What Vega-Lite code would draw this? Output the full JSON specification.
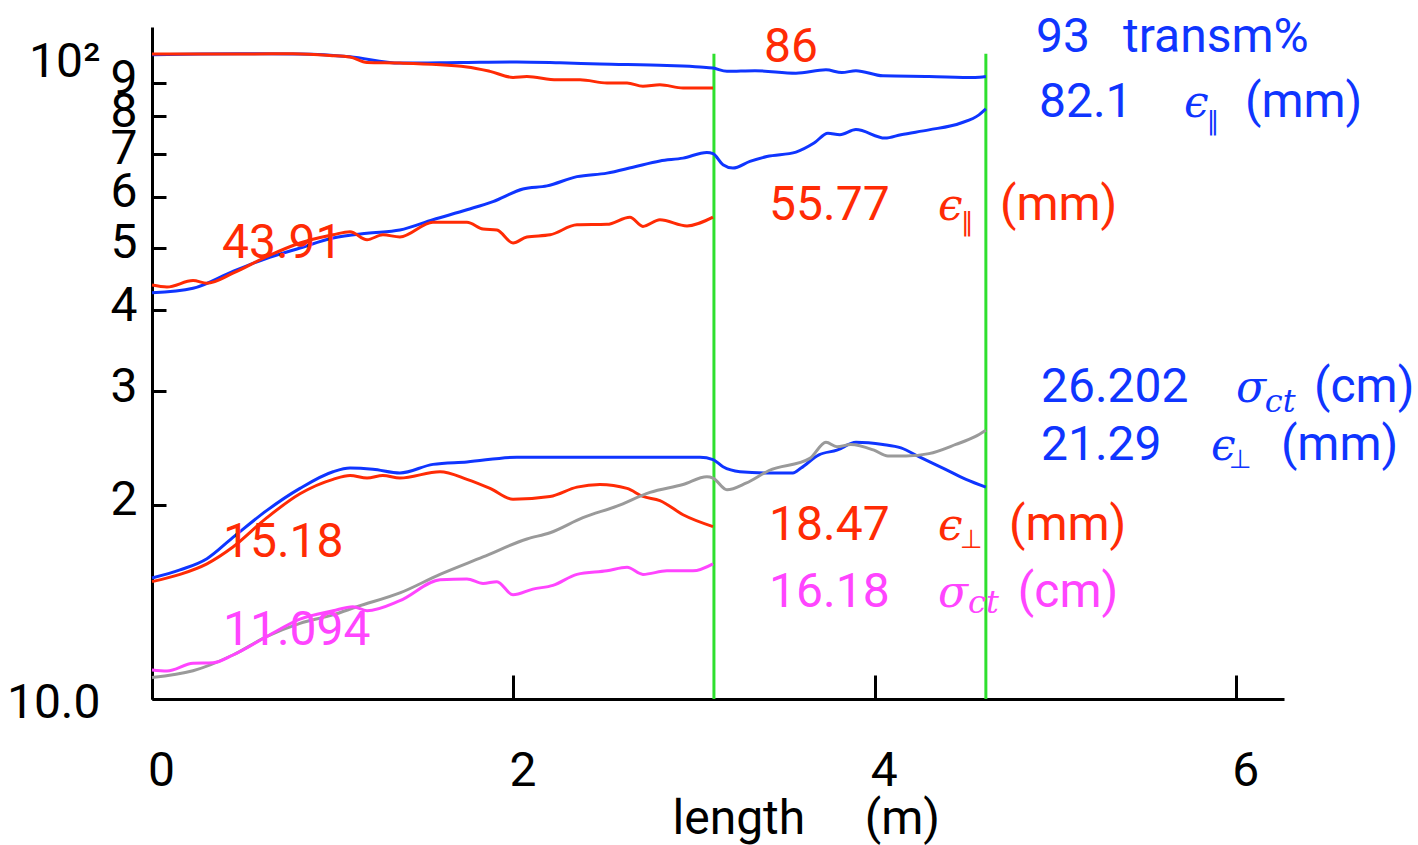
{
  "$schema": "https://vega.github.io/schema/vega-lite/v6.json",
  "width": 1132,
  "height": 672,
  "autosize": {"type": "none"},
  "padding": {"left": 152, "top": 27, "right": 134, "bottom": 146},
  "background": "white",
  "config": {"view": {"stroke": null}, "font": "Roboto"},
  "datasets": {
    "curves": [
      {"curve": "T_A", "group": "A", "x": 0, "y": 99.6},
      {"curve": "T_A", "group": "A", "x": 0.266, "y": 99.9},
      {"curve": "T_A", "group": "A", "x": 0.598, "y": 100.0},
      {"curve": "T_A", "group": "A", "x": 0.819, "y": 99.9},
      {"curve": "T_A", "group": "A", "x": 1.096, "y": 98.9},
      {"curve": "T_A", "group": "A", "x": 1.372, "y": 96.7},
      {"curve": "T_A", "group": "A", "x": 1.705, "y": 96.9},
      {"curve": "T_A", "group": "A", "x": 2.02, "y": 97.1},
      {"curve": "T_A", "group": "A", "x": 2.258, "y": 96.8},
      {"curve": "T_A", "group": "A", "x": 2.479, "y": 96.4},
      {"curve": "T_A", "group": "A", "x": 2.85, "y": 95.9},
      {"curve": "T_A", "group": "A", "x": 3.033, "y": 95.4},
      {"curve": "T_A", "group": "A", "x": 3.105, "y": 95.0},
      {"curve": "T_A", "group": "A", "x": 3.182, "y": 93.9},
      {"curve": "T_A", "group": "A", "x": 3.337, "y": 94.1},
      {"curve": "T_A", "group": "A", "x": 3.564, "y": 93.3},
      {"curve": "T_A", "group": "A", "x": 3.73, "y": 94.4},
      {"curve": "T_A", "group": "A", "x": 3.818, "y": 93.5},
      {"curve": "T_A", "group": "A", "x": 3.896, "y": 94.1},
      {"curve": "T_A", "group": "A", "x": 4.045, "y": 92.4},
      {"curve": "T_A", "group": "A", "x": 4.3, "y": 92.2},
      {"curve": "T_A", "group": "A", "x": 4.555, "y": 91.9},
      {"curve": "T_A", "group": "A", "x": 4.615, "y": 92.2},

      {"curve": "T_B", "group": "B", "x": 0, "y": 99.9},
      {"curve": "T_B", "group": "B", "x": 0.266, "y": 99.9},
      {"curve": "T_B", "group": "B", "x": 0.542, "y": 99.9},
      {"curve": "T_B", "group": "B", "x": 0.78, "y": 100.0},
      {"curve": "T_B", "group": "B", "x": 0.985, "y": 99.4},
      {"curve": "T_B", "group": "B", "x": 1.096, "y": 98.8},
      {"curve": "T_B", "group": "B", "x": 1.19, "y": 96.9},
      {"curve": "T_B", "group": "B", "x": 1.372, "y": 96.7},
      {"curve": "T_B", "group": "B", "x": 1.743, "y": 95.4},
      {"curve": "T_B", "group": "B", "x": 1.871, "y": 93.9},
      {"curve": "T_B", "group": "B", "x": 1.998, "y": 91.9},
      {"curve": "T_B", "group": "B", "x": 2.075, "y": 92.2},
      {"curve": "T_B", "group": "B", "x": 2.241, "y": 91.1},
      {"curve": "T_B", "group": "B", "x": 2.369, "y": 91.1},
      {"curve": "T_B", "group": "B", "x": 2.518, "y": 90.1},
      {"curve": "T_B", "group": "B", "x": 2.629, "y": 90.1},
      {"curve": "T_B", "group": "B", "x": 2.717, "y": 89.0},
      {"curve": "T_B", "group": "B", "x": 2.811, "y": 89.5},
      {"curve": "T_B", "group": "B", "x": 2.939, "y": 88.5},
      {"curve": "T_B", "group": "B", "x": 3.105, "y": 88.5},

      {"curve": "EP_A", "group": "A", "x": 0, "y": 42.6},
      {"curve": "EP_A", "group": "A", "x": 0.227, "y": 43.3},
      {"curve": "EP_A", "group": "A", "x": 0.448, "y": 46.0},
      {"curve": "EP_A", "group": "A", "x": 0.636, "y": 48.2},
      {"curve": "EP_A", "group": "A", "x": 0.819, "y": 50.0},
      {"curve": "EP_A", "group": "A", "x": 1.002, "y": 51.8},
      {"curve": "EP_A", "group": "A", "x": 1.19, "y": 52.7},
      {"curve": "EP_A", "group": "A", "x": 1.372, "y": 53.3},
      {"curve": "EP_A", "group": "A", "x": 1.555, "y": 55.3},
      {"curve": "EP_A", "group": "A", "x": 1.743, "y": 57.3},
      {"curve": "EP_A", "group": "A", "x": 1.887, "y": 59.0},
      {"curve": "EP_A", "group": "A", "x": 2.053, "y": 61.7},
      {"curve": "EP_A", "group": "A", "x": 2.186, "y": 62.4},
      {"curve": "EP_A", "group": "A", "x": 2.352, "y": 64.5},
      {"curve": "EP_A", "group": "A", "x": 2.518, "y": 65.3},
      {"curve": "EP_A", "group": "A", "x": 2.662, "y": 66.7},
      {"curve": "EP_A", "group": "A", "x": 2.811, "y": 68.2},
      {"curve": "EP_A", "group": "A", "x": 2.939, "y": 68.9},
      {"curve": "EP_A", "group": "A", "x": 3.071, "y": 70.3},
      {"curve": "EP_A", "group": "A", "x": 3.105, "y": 70.0},
      {"curve": "EP_A", "group": "A", "x": 3.16, "y": 67.3},
      {"curve": "EP_A", "group": "A", "x": 3.215, "y": 66.5},
      {"curve": "EP_A", "group": "A", "x": 3.309, "y": 68.1},
      {"curve": "EP_A", "group": "A", "x": 3.403, "y": 69.3},
      {"curve": "EP_A", "group": "A", "x": 3.564, "y": 70.4},
      {"curve": "EP_A", "group": "A", "x": 3.664, "y": 72.7},
      {"curve": "EP_A", "group": "A", "x": 3.741, "y": 75.3},
      {"curve": "EP_A", "group": "A", "x": 3.807, "y": 74.9},
      {"curve": "EP_A", "group": "A", "x": 3.896, "y": 76.3},
      {"curve": "EP_A", "group": "A", "x": 4.057, "y": 74.0},
      {"curve": "EP_A", "group": "A", "x": 4.145, "y": 74.9},
      {"curve": "EP_A", "group": "A", "x": 4.3, "y": 76.2},
      {"curve": "EP_A", "group": "A", "x": 4.477, "y": 78.1},
      {"curve": "EP_A", "group": "A", "x": 4.577, "y": 80.4},
      {"curve": "EP_A", "group": "A", "x": 4.615, "y": 82.1},

      {"curve": "EP_B", "group": "B", "x": 0, "y": 43.8},
      {"curve": "EP_B", "group": "B", "x": 0.083, "y": 43.5},
      {"curve": "EP_B", "group": "B", "x": 0.227, "y": 44.5},
      {"curve": "EP_B", "group": "B", "x": 0.304, "y": 44.1},
      {"curve": "EP_B", "group": "B", "x": 0.448, "y": 45.7},
      {"curve": "EP_B", "group": "B", "x": 0.636, "y": 48.5},
      {"curve": "EP_B", "group": "B", "x": 0.819, "y": 50.9},
      {"curve": "EP_B", "group": "B", "x": 1.002, "y": 52.4},
      {"curve": "EP_B", "group": "B", "x": 1.096, "y": 53.0},
      {"curve": "EP_B", "group": "B", "x": 1.19, "y": 51.5},
      {"curve": "EP_B", "group": "B", "x": 1.278, "y": 52.4},
      {"curve": "EP_B", "group": "B", "x": 1.372, "y": 52.0},
      {"curve": "EP_B", "group": "B", "x": 1.555, "y": 54.8},
      {"curve": "EP_B", "group": "B", "x": 1.743, "y": 54.8},
      {"curve": "EP_B", "group": "B", "x": 1.832, "y": 53.5},
      {"curve": "EP_B", "group": "B", "x": 1.909, "y": 53.3},
      {"curve": "EP_B", "group": "B", "x": 1.998, "y": 50.9},
      {"curve": "EP_B", "group": "B", "x": 2.075, "y": 52.0},
      {"curve": "EP_B", "group": "B", "x": 2.203, "y": 52.4},
      {"curve": "EP_B", "group": "B", "x": 2.352, "y": 54.3},
      {"curve": "EP_B", "group": "B", "x": 2.518, "y": 54.4},
      {"curve": "EP_B", "group": "B", "x": 2.645, "y": 55.8},
      {"curve": "EP_B", "group": "B", "x": 2.717, "y": 54.0},
      {"curve": "EP_B", "group": "B", "x": 2.811, "y": 55.3},
      {"curve": "EP_B", "group": "B", "x": 2.961, "y": 54.1},
      {"curve": "EP_B", "group": "B", "x": 3.105, "y": 55.8},

      {"curve": "EPP_A", "group": "A", "x": 0, "y": 15.4},
      {"curve": "EPP_A", "group": "A", "x": 0.155, "y": 15.85},
      {"curve": "EPP_A", "group": "A", "x": 0.304, "y": 16.5},
      {"curve": "EPP_A", "group": "A", "x": 0.448, "y": 17.8},
      {"curve": "EPP_A", "group": "A", "x": 0.636, "y": 19.6},
      {"curve": "EPP_A", "group": "A", "x": 0.819, "y": 21.2},
      {"curve": "EPP_A", "group": "A", "x": 1.002, "y": 22.5},
      {"curve": "EPP_A", "group": "A", "x": 1.096, "y": 22.8},
      {"curve": "EPP_A", "group": "A", "x": 1.223, "y": 22.7},
      {"curve": "EPP_A", "group": "A", "x": 1.372, "y": 22.4},
      {"curve": "EPP_A", "group": "A", "x": 1.555, "y": 23.1},
      {"curve": "EPP_A", "group": "A", "x": 1.743, "y": 23.3},
      {"curve": "EPP_A", "group": "A", "x": 2.02, "y": 23.7},
      {"curve": "EPP_A", "group": "A", "x": 2.297, "y": 23.7},
      {"curve": "EPP_A", "group": "A", "x": 2.85, "y": 23.7},
      {"curve": "EPP_A", "group": "A", "x": 3.033, "y": 23.7},
      {"curve": "EPP_A", "group": "A", "x": 3.105, "y": 23.5},
      {"curve": "EPP_A", "group": "A", "x": 3.16, "y": 22.9},
      {"curve": "EPP_A", "group": "A", "x": 3.254, "y": 22.5},
      {"curve": "EPP_A", "group": "A", "x": 3.403, "y": 22.4},
      {"curve": "EPP_A", "group": "A", "x": 3.547, "y": 22.4},
      {"curve": "EPP_A", "group": "A", "x": 3.592, "y": 22.8},
      {"curve": "EPP_A", "group": "A", "x": 3.691, "y": 23.9},
      {"curve": "EPP_A", "group": "A", "x": 3.791, "y": 24.3},
      {"curve": "EPP_A", "group": "A", "x": 3.896, "y": 25.0},
      {"curve": "EPP_A", "group": "A", "x": 4.045, "y": 24.8},
      {"curve": "EPP_A", "group": "A", "x": 4.145, "y": 24.5},
      {"curve": "EPP_A", "group": "A", "x": 4.25, "y": 23.7},
      {"curve": "EPP_A", "group": "A", "x": 4.377, "y": 22.8},
      {"curve": "EPP_A", "group": "A", "x": 4.505, "y": 21.9},
      {"curve": "EPP_A", "group": "A", "x": 4.615, "y": 21.3},

      {"curve": "EPP_B", "group": "B", "x": 0, "y": 15.2},
      {"curve": "EPP_B", "group": "B", "x": 0.155, "y": 15.6},
      {"curve": "EPP_B", "group": "B", "x": 0.304, "y": 16.2},
      {"curve": "EPP_B", "group": "B", "x": 0.448, "y": 17.2},
      {"curve": "EPP_B", "group": "B", "x": 0.636, "y": 19.1},
      {"curve": "EPP_B", "group": "B", "x": 0.819, "y": 20.8},
      {"curve": "EPP_B", "group": "B", "x": 1.002, "y": 21.9},
      {"curve": "EPP_B", "group": "B", "x": 1.096, "y": 22.2},
      {"curve": "EPP_B", "group": "B", "x": 1.19, "y": 22.0},
      {"curve": "EPP_B", "group": "B", "x": 1.278, "y": 22.2},
      {"curve": "EPP_B", "group": "B", "x": 1.372, "y": 22.0},
      {"curve": "EPP_B", "group": "B", "x": 1.594, "y": 22.5},
      {"curve": "EPP_B", "group": "B", "x": 1.743, "y": 21.9},
      {"curve": "EPP_B", "group": "B", "x": 1.871, "y": 21.2},
      {"curve": "EPP_B", "group": "B", "x": 1.998, "y": 20.4},
      {"curve": "EPP_B", "group": "B", "x": 2.203, "y": 20.6},
      {"curve": "EPP_B", "group": "B", "x": 2.352, "y": 21.3},
      {"curve": "EPP_B", "group": "B", "x": 2.479, "y": 21.5},
      {"curve": "EPP_B", "group": "B", "x": 2.629, "y": 21.2},
      {"curve": "EPP_B", "group": "B", "x": 2.717, "y": 20.6},
      {"curve": "EPP_B", "group": "B", "x": 2.811, "y": 20.3},
      {"curve": "EPP_B", "group": "B", "x": 2.939, "y": 19.3},
      {"curve": "EPP_B", "group": "B", "x": 3.105, "y": 18.5},

      {"curve": "S_D", "group": "D", "x": 0, "y": 10.8},
      {"curve": "S_D", "group": "D", "x": 0.227, "y": 11.06},
      {"curve": "S_D", "group": "D", "x": 0.448, "y": 11.7},
      {"curve": "S_D", "group": "D", "x": 0.636, "y": 12.5},
      {"curve": "S_D", "group": "D", "x": 0.819, "y": 13.1},
      {"curve": "S_D", "group": "D", "x": 1.002, "y": 13.5},
      {"curve": "S_D", "group": "D", "x": 1.134, "y": 13.9},
      {"curve": "S_D", "group": "D", "x": 1.372, "y": 14.6},
      {"curve": "S_D", "group": "D", "x": 1.594, "y": 15.6},
      {"curve": "S_D", "group": "D", "x": 1.832, "y": 16.6},
      {"curve": "S_D", "group": "D", "x": 2.075, "y": 17.7},
      {"curve": "S_D", "group": "D", "x": 2.203, "y": 18.1},
      {"curve": "S_D", "group": "D", "x": 2.385, "y": 19.1},
      {"curve": "S_D", "group": "D", "x": 2.573, "y": 19.9},
      {"curve": "S_D", "group": "D", "x": 2.756, "y": 20.9},
      {"curve": "S_D", "group": "D", "x": 2.939, "y": 21.5},
      {"curve": "S_D", "group": "D", "x": 3.071, "y": 22.1},
      {"curve": "S_D", "group": "D", "x": 3.105, "y": 22.0},
      {"curve": "S_D", "group": "D", "x": 3.182, "y": 21.1},
      {"curve": "S_D", "group": "D", "x": 3.287, "y": 21.6},
      {"curve": "S_D", "group": "D", "x": 3.415, "y": 22.6},
      {"curve": "S_D", "group": "D", "x": 3.641, "y": 23.6},
      {"curve": "S_D", "group": "D", "x": 3.73, "y": 25.0},
      {"curve": "S_D", "group": "D", "x": 3.791, "y": 24.6},
      {"curve": "S_D", "group": "D", "x": 3.868, "y": 24.8},
      {"curve": "S_D", "group": "D", "x": 3.996, "y": 24.3},
      {"curve": "S_D", "group": "D", "x": 4.073, "y": 23.8},
      {"curve": "S_D", "group": "D", "x": 4.173, "y": 23.8},
      {"curve": "S_D", "group": "D", "x": 4.3, "y": 24.0},
      {"curve": "S_D", "group": "D", "x": 4.449, "y": 24.8},
      {"curve": "S_D", "group": "D", "x": 4.555, "y": 25.5},
      {"curve": "S_D", "group": "D", "x": 4.615, "y": 26.1},

      {"curve": "S_C", "group": "C", "x": 0, "y": 11.09},
      {"curve": "S_C", "group": "C", "x": 0.083, "y": 11.05},
      {"curve": "S_C", "group": "C", "x": 0.227, "y": 11.36},
      {"curve": "S_C", "group": "C", "x": 0.338, "y": 11.38},
      {"curve": "S_C", "group": "C", "x": 0.448, "y": 11.7},
      {"curve": "S_C", "group": "C", "x": 0.636, "y": 12.5},
      {"curve": "S_C", "group": "C", "x": 0.819, "y": 13.3},
      {"curve": "S_C", "group": "C", "x": 1.002, "y": 13.7},
      {"curve": "S_C", "group": "C", "x": 1.112, "y": 13.9},
      {"curve": "S_C", "group": "C", "x": 1.19, "y": 13.7},
      {"curve": "S_C", "group": "C", "x": 1.372, "y": 14.2},
      {"curve": "S_C", "group": "C", "x": 1.594, "y": 15.3},
      {"curve": "S_C", "group": "C", "x": 1.743, "y": 15.35},
      {"curve": "S_C", "group": "C", "x": 1.832, "y": 15.1},
      {"curve": "S_C", "group": "C", "x": 1.909, "y": 15.2},
      {"curve": "S_C", "group": "C", "x": 1.998, "y": 14.5},
      {"curve": "S_C", "group": "C", "x": 2.108, "y": 14.8},
      {"curve": "S_C", "group": "C", "x": 2.219, "y": 15.0},
      {"curve": "S_C", "group": "C", "x": 2.352, "y": 15.6},
      {"curve": "S_C", "group": "C", "x": 2.518, "y": 15.8},
      {"curve": "S_C", "group": "C", "x": 2.629, "y": 16.0},
      {"curve": "S_C", "group": "C", "x": 2.717, "y": 15.6},
      {"curve": "S_C", "group": "C", "x": 2.85, "y": 15.8},
      {"curve": "S_C", "group": "C", "x": 2.994, "y": 15.8},
      {"curve": "S_C", "group": "C", "x": 3.105, "y": 16.2}
    ],
    "markers": [
      {"group": "G", "x": 3.11, "y": 10, "y2": 100},
      {"group": "G", "x": 4.615, "y": 10, "y2": 100}
    ],
    "labels": [
      {"role": "num", "group": "A", "label": "93", "x": 4.892, "y": 100.7},
      {"role": "num", "group": "A", "label": "82.1", "x": 4.909, "y": 79.9},
      {"role": "num", "group": "B", "label": "86", "x": 3.387, "y": 97.2},
      {"role": "num", "group": "B", "label": "55.77", "x": 3.415, "y": 55.3},
      {"role": "num", "group": "B", "label": "43.91", "x": 0.387, "y": 48.3},
      {"role": "num", "group": "A", "label": "26.202", "x": 4.92, "y": 28.9},
      {"role": "num", "group": "A", "label": "21.29", "x": 4.92, "y": 23.5},
      {"role": "num", "group": "B", "label": "18.47", "x": 3.415, "y": 17.64},
      {"role": "num", "group": "C", "label": "16.18", "x": 3.415, "y": 13.89},
      {"role": "num", "group": "B", "label": "15.18", "x": 0.393, "y": 16.61},
      {"role": "num", "group": "C", "label": "11.094", "x": 0.393, "y": 12.12},
      {"role": "word", "group": "A", "label": "transm%", "x": 5.374, "y": 100.7},
      {"role": "word", "group": "A", "label": "(mm)", "x": 6.049, "y": 79.9},
      {"role": "word", "group": "B", "label": "(mm)", "x": 4.693, "y": 55.3},
      {"role": "word", "group": "A", "label": "(cm)", "x": 6.431, "y": 28.9},
      {"role": "word", "group": "A", "label": "(mm)", "x": 6.248, "y": 23.5},
      {"role": "word", "group": "B", "label": "(mm)", "x": 4.743, "y": 17.64},
      {"role": "word", "group": "C", "label": "(cm)", "x": 4.792, "y": 13.89},
      {"role": "sym", "group": "A", "label": "ϵ", "x": 5.711, "y": 79.9},
      {"role": "sym", "group": "B", "label": "ϵ", "x": 4.35, "y": 55.3},
      {"role": "sym", "group": "A", "label": "σ", "x": 5.999, "y": 28.9},
      {"role": "sym", "group": "A", "label": "ϵ", "x": 5.861, "y": 23.5},
      {"role": "sym", "group": "B", "label": "ϵ", "x": 4.35, "y": 17.64},
      {"role": "sym", "group": "C", "label": "σ", "x": 4.35, "y": 13.89},
      {"role": "subop", "group": "A", "label": "∥", "x": 5.838, "y": 76.2},
      {"role": "subop", "group": "B", "label": "∥", "x": 4.477, "y": 53.2},
      {"role": "subop", "group": "A", "label": "⊥", "x": 5.96, "y": 22.8},
      {"role": "subop", "group": "B", "label": "⊥", "x": 4.472, "y": 17.14},
      {"role": "subct", "group": "A", "label": "ct", "x": 6.159, "y": 27.86},
      {"role": "subct", "group": "C", "label": "ct", "x": 4.516, "y": 13.59}
    ]
  },
  "encoding": {
    "x": {
      "field": "x",
      "type": "quantitative",
      "scale": {"domain": [0, 6.265], "nice": false, "zero": false},
      "axis": {
        "values": [0, 2, 4, 6],
        "title": "length\u00a0\u00a0\u00a0\u00a0\u00a0(m)",
        "grid": false,
        "domainColor": "black",
        "domainWidth": 3,
        "tickColor": "black",
        "tickWidth": 3,
        "tickSize": -24,
        "labelFont": "Roboto",
        "labelFontSize": 48,
        "labelColor": "black",
        "labelBaseline": "alphabetic",
        "labelPadding": 110,
        "labelOffset": 9,
        "labelFlush": false,
        "labelOverlap": false,
        "labelBound": false,
        "titleFont": "Roboto",
        "titleFontSize": 48,
        "titleFontWeight": "normal",
        "titleColor": "black",
        "titleX": 520,
        "titleY": 134,
        "titleAlign": "left",
        "titleBaseline": "alphabetic"
      }
    },
    "y": {
      "field": "y",
      "type": "quantitative",
      "scale": {"type": "log", "domain": [10, 110], "nice": false},
      "axis": {
        "values": [10, 20, 30, 40, 50, 60, 70, 80, 90, 100],
        "title": null,
        "grid": false,
        "domainColor": "black",
        "domainWidth": 3,
        "tickColor": "black",
        "tickWidth": 3,
        "tickSize": -14,
        "labelExpr": "datum.value >= 100 ? '10\u00b2' : datum.value <= 10 ? '10.0' : format(datum.value / 10, 'd')",
        "labelFont": "Roboto",
        "labelFontSize": 48,
        "labelColor": "black",
        "labelBaseline": "alphabetic",
        "labelPadding": {"expr": "datum.value <= 10 || datum.value >= 100 ? 66 : 29"},
        "labelOffset": {"expr": "datum.value >= 100 ? 23 : datum.value <= 10 ? 18 : 10"},
        "labelOverlap": false,
        "labelFlush": false,
        "labelBound": false
      }
    },
    "color": {
      "field": "group",
      "type": "nominal",
      "scale": {
        "domain": ["A", "B", "C", "D", "G"],
        "range": ["#0f35ff", "#ff2b05", "#ff45ff", "#9a9a9a", "#2ee02e"]
      },
      "legend": null
    }
  },
  "layer": [
    {
      "data": {"name": "markers"},
      "mark": {"type": "rule", "strokeWidth": 3},
      "encoding": {"y2": {"field": "y2"}}
    },
    {
      "data": {"name": "curves"},
      "mark": {"type": "line", "strokeWidth": 3, "interpolate": "monotone"},
      "encoding": {"detail": {"field": "curve"}}
    },
    {
      "data": {"name": "labels"},
      "transform": [{"filter": "datum.role == 'num' || datum.role == 'word'"}],
      "mark": {"type": "text", "font": "Roboto", "fontSize": 48, "align": "left", "baseline": "alphabetic"},
      "encoding": {"text": {"field": "label"}}
    },
    {
      "data": {"name": "labels"},
      "transform": [{"filter": "datum.role == 'sym'"}],
      "mark": {"type": "text", "font": "DejaVu Serif", "fontStyle": "italic", "fontSize": 44, "align": "left", "baseline": "alphabetic"},
      "encoding": {"text": {"field": "label"}}
    },
    {
      "data": {"name": "labels"},
      "transform": [{"filter": "datum.role == 'subop'"}],
      "mark": {"type": "text", "font": "DejaVu Sans", "fontSize": 26, "align": "left", "baseline": "alphabetic"},
      "encoding": {"text": {"field": "label"}}
    },
    {
      "data": {"name": "labels"},
      "transform": [{"filter": "datum.role == 'subct'"}],
      "mark": {"type": "text", "font": "DejaVu Serif", "fontStyle": "italic", "fontSize": 32, "align": "left", "baseline": "alphabetic"},
      "encoding": {"text": {"field": "label"}}
    }
  ]
}
